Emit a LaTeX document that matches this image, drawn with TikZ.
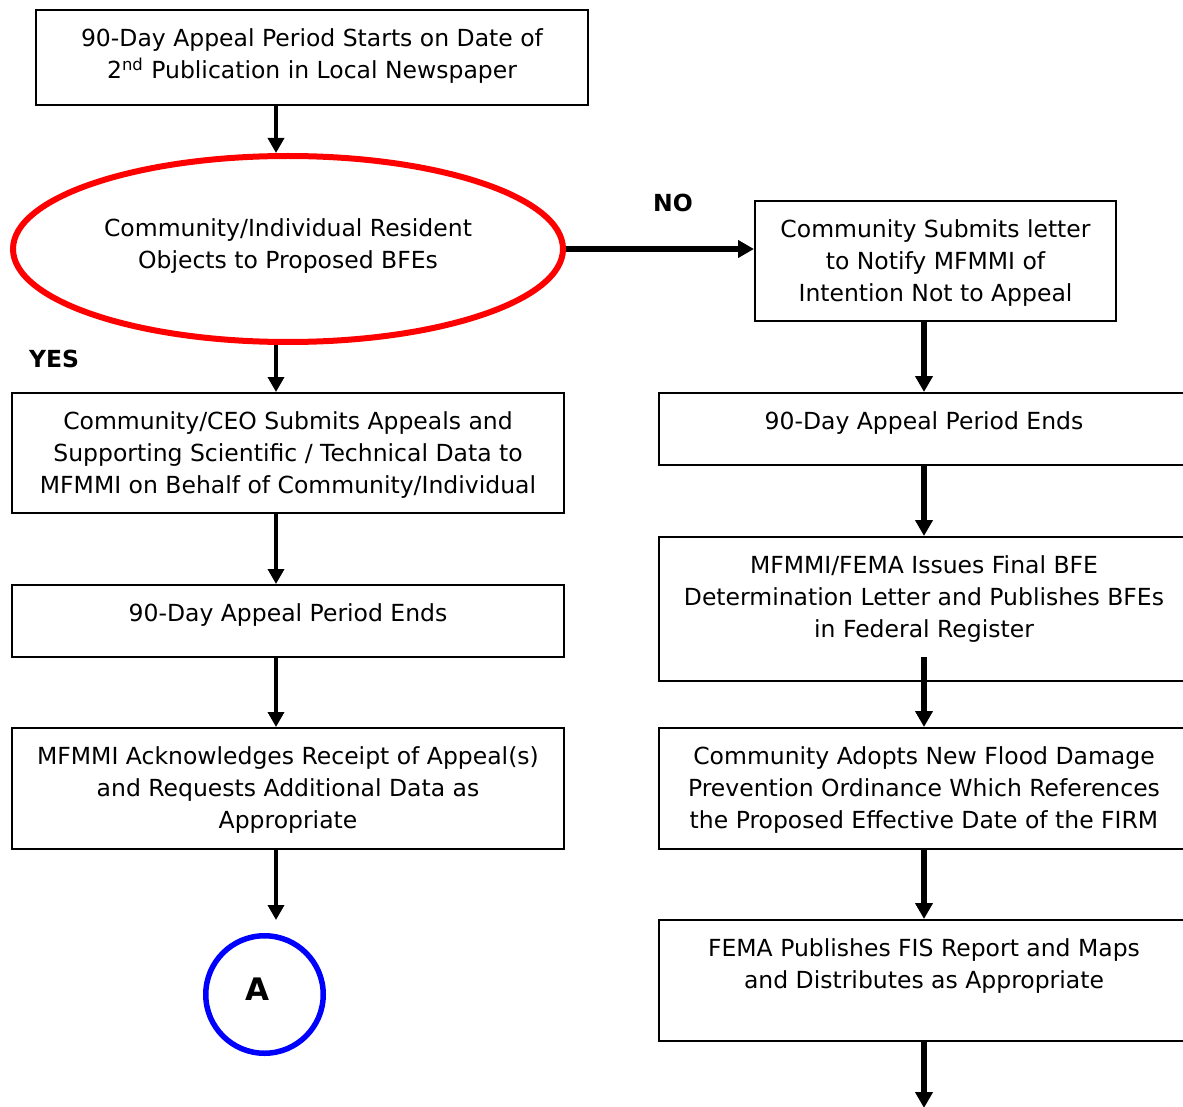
\documentclass[tikz,border=0pt]{standalone}
\usepackage{fontspec}
\setmainfont{DejaVu Sans}
\usetikzlibrary{arrows.meta,shapes.geometric,math}

\begin{document}
\begin{tikzpicture}[x=0.5pt,y=-0.5pt,
    every node/.style={font=\fontsize{11.75}{16}\selectfont},
    box/.style={draw,line width=1pt,inner sep=0pt},
    txt/.style={align=center,anchor=north,inner sep=0pt,execute at begin node=\strut},
    lbl/.style={font=\fontsize{11.75}{16}\selectfont\bfseries,inner sep=0pt},
    arr/.style={line width=1.75pt,-{Triangle[width=8pt,length=7.5pt]}},
    bigarr/.style={line width=3pt,-{Triangle[width=8.5pt,length=8pt]}}]
  \tikzmath{
    real \lx, \rx;
    \lx=276;
    \rx=924;
  }
  \useasboundingbox (0,0) rectangle (1183,1107);
  \coordinate (lcol) at (\lx,0);
  \coordinate (rcol) at (\rx,0);

  % start
  \node[box,minimum width=276pt,minimum height=47.5pt] (b1) at (312,57.5) {};
  \node[txt] (b1t) at ([yshift=-9.8pt]b1.north)
    {90-Day Appeal Period Starts on Date of\\2\textsuperscript{nd} Publication in Local Newspaper};

  % decision
  \node[ellipse,draw=red,line width=3pt,minimum width=275pt,minimum height=93pt] (obj) at (288,249) {};
  \node[txt] (objt) at ([yshift=15.2pt]obj.center)
    {Community/Individual Resident\\Objects to Proposed BFEs};
  \node[lbl] (no) at (673,203) {NO};
  \node[lbl] (yes) at (54,359) {YES};

  % left column
  \node[box,minimum width=276pt,minimum height=60pt] (l1) at (288,453) {};
  \node[txt] (l1t) at ([yshift=-9.8pt]l1.north)
    {Community/CEO Submits Appeals and\\Supporting Scientific / Technical Data to\\MFMMI on Behalf of Community/Individual};
  \node[box,minimum width=276pt,minimum height=36pt] (l2) at (288,621) {};
  \node[txt] (l2t) at ([yshift=-7.3pt]l2.north) {90-Day Appeal Period Ends};
  \node[box,minimum width=276pt,minimum height=60.5pt] (l3) at (288,788.5) {};
  \node[txt] (l3t) at ([yshift=-9.8pt]l3.north)
    {MFMMI Acknowledges Receipt of Appeal(s)\\and Requests Additional Data as\\Appropriate};
  \node[circle,draw=blue,line width=2.75pt,minimum size=58.75pt,inner sep=0pt] (A) at (264.5,994.5) {};
  \node[lbl,font=\fontsize{15.5}{18}\selectfont\bfseries] (At) at (257,989) {A};

  % right column
  \node[box,minimum width=180.5pt,minimum height=60pt] (r1) at (935.5,261) {};
  \node[txt] (r1t) at ([yshift=-9.8pt]r1.north)
    {Community Submits letter\\to Notify MFMMI of\\Intention Not to Appeal};
  \node[box,minimum width=265pt,minimum height=36pt] (r2) at (924,429) {};
  \node[txt] (r2t) at ([yshift=-7.3pt]r2.north) {90-Day Appeal Period Ends};
  \node[box,minimum width=265pt,minimum height=72pt] (r3) at (924,609) {};
  \node[txt] (r3t) at ([yshift=-9.8pt]r3.north)
    {MFMMI/FEMA Issues Final BFE\\Determination Letter and Publishes BFEs\\in Federal Register};
  \node[box,minimum width=265pt,minimum height=60.5pt] (r4) at (924,788.5) {};
  \node[txt] (r4t) at ([yshift=-9.8pt]r4.north)
    {Community Adopts New Flood Damage\\Prevention Ordinance Which References\\the Proposed Effective Date of the FIRM};
  \node[box,minimum width=265pt,minimum height=60.5pt] (r5) at (924,980.5) {};
  \node[txt] (r5t) at ([yshift=-9.8pt]r5.north)
    {FEMA Publishes FIS Report and Maps\\and Distributes as Appropriate};
  \coordinate (r3out) at (\rx,657);
  \coordinate (pageend) at (\rx,1108);

  % connectors
  \draw[arr] (b1.south -| lcol) -- (obj.north -| lcol);
  \draw[arr] (obj.south -| lcol) -- (l1.north -| lcol);
  \draw[arr] (l1.south -| lcol) -- (l2.north -| lcol);
  \draw[arr] (l2.south -| lcol) -- (l3.north -| lcol);
  \draw[arr,shorten >=6.5pt] (l3.south -| lcol) -- (A.north -| lcol);
  \draw[bigarr] (obj.east) -- (obj.east -| r1.west);
  \draw[bigarr] (r1.south -| rcol) -- (r2.north -| rcol);
  \draw[bigarr] (r2.south -| rcol) -- (r3.north -| rcol);
  \draw[bigarr] (r3out) -- (r4.north -| rcol);
  \draw[bigarr] (r4.south -| rcol) -- (r5.north -| rcol);
  \draw[bigarr] (r5.south -| rcol) -- (pageend);
\end{tikzpicture}
\end{document}
